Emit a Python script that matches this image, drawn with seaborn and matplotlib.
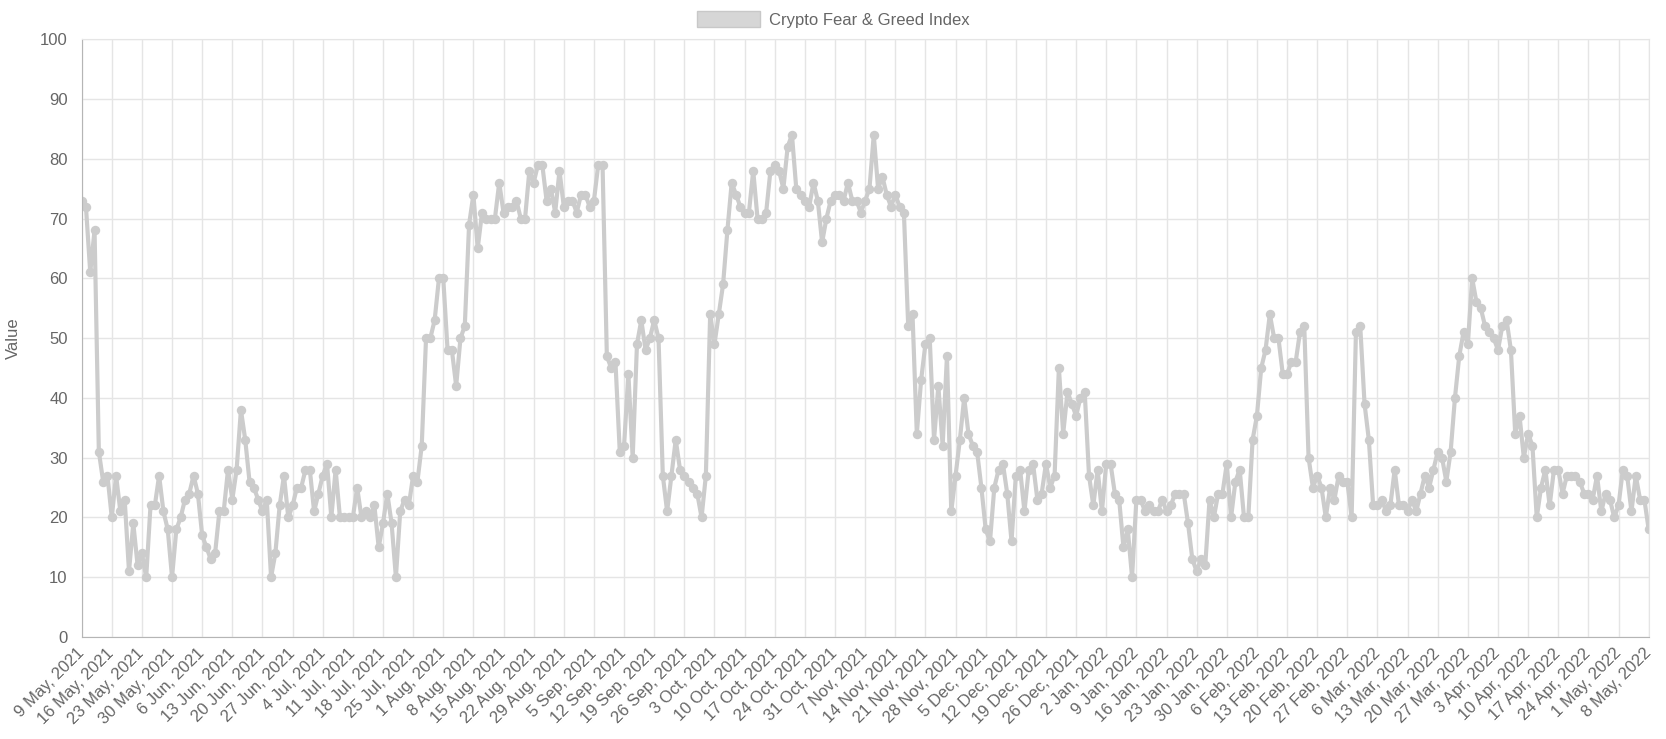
import matplotlib
matplotlib.use("Agg")
import matplotlib.pyplot as plt
import matplotlib.patches as mpatches
import pandas as pd
import seaborn as sns

# Daily index values, one list per month
may_2021 = [73, 72, 61, 68, 31, 26, 27, 20, 27, 21, 23, 11, 19, 12, 14, 10, 22, 22, 27, 21,
            18, 10, 18]
jun_2021 = [20, 23, 24, 27, 24, 17, 15, 13, 14, 21, 21, 28, 23, 28, 38, 33, 26, 25, 23, 21,
            23, 10, 14, 22, 27, 20, 22, 25, 25, 28]
jul_2021 = [28, 21, 24, 27, 29, 20, 28, 20, 20, 20, 20, 25, 20, 21, 20, 22, 15, 19, 24, 19,
            10, 21, 23, 22, 27, 26, 32, 50, 50, 53, 60]
aug_2021 = [60, 48, 48, 42, 50, 52, 69, 74, 65, 71, 70, 70, 70, 76, 71, 72, 72, 73, 70, 70,
            78, 76, 79, 79, 73, 75, 71, 78, 72, 73, 73]
sep_2021 = [71, 74, 74, 72, 73, 79, 79, 47, 45, 46, 31, 32, 44, 30, 49, 53, 48, 50, 53, 50,
            27, 21, 27, 33, 28, 27, 26, 25, 24, 20]
oct_2021 = [27, 54, 49, 54, 59, 68, 76, 74, 72, 71, 71, 78, 70, 70, 71, 78, 79, 78, 75, 82,
            84, 75, 74, 73, 72, 76, 73, 66, 70, 73, 74]
nov_2021 = [74, 73, 76, 73, 73, 71, 73, 75, 84, 75, 77, 74, 72, 74, 72, 71, 52, 54, 34, 43,
            49, 50, 33, 42, 32, 47, 21, 27, 33, 40]
dec_2021 = [34, 32, 31, 25, 18, 16, 25, 28, 29, 24, 16, 27, 28, 21, 28, 29, 23, 24, 29, 25,
            27, 45, 34, 41, 39, 37, 40, 41, 27, 22, 28]
jan_2022 = [21, 29, 29, 24, 23, 15, 18, 10, 23, 23, 21, 22, 21, 21, 23, 21, 22, 24, 24, 24,
            19, 13, 11, 13, 12, 23, 20, 24, 24, 29, 20]
feb_2022 = [26, 28, 20, 20, 33, 37, 45, 48, 54, 50, 50, 44, 44, 46, 46, 51, 52, 30, 25, 27,
            25, 20, 25, 23, 27, 26, 26, 20]
mar_2022 = [51, 52, 39, 33, 22, 22, 23, 21, 22, 28, 22, 22, 21, 23, 21, 24, 27, 25, 28, 31,
            30, 26, 31, 40, 47, 51, 49, 60, 56, 55, 52]
apr_2022 = [51, 50, 48, 52, 53, 48, 34, 37, 30, 34, 32, 20, 25, 28, 22, 28, 28, 24, 27, 27,
            27, 26, 24, 24, 23, 27, 21, 24, 23, 20]
may_2022 = [22, 28, 27, 21, 27, 23, 23, 18]

months = [may_2021, jun_2021, jul_2021, aug_2021, sep_2021, oct_2021, nov_2021,
          dec_2021, jan_2022, feb_2022, mar_2022, apr_2022, may_2022]
values = [v for m in months for v in m]
dates = pd.date_range("2021-05-09", "2022-05-08", freq="D")
df = pd.DataFrame({"date": dates, "value": values})

LINE = "#cccccc"
TEXT = "#666666"
GRID = "#e5e5e5"

sns.set_style("white")
plt.rcParams["font.family"] = ["Liberation Sans", "DejaVu Sans"]

fig = plt.figure(figsize=(16.66, 7.39), dpi=100)
ax = fig.add_axes([0.049, 0.138, 0.9406, 0.809])

sns.lineplot(data=df, x="date", y="value", ax=ax, color=LINE, linewidth=3,
             marker="o", markersize=6.8, markeredgewidth=0, legend=False)

# Weekly ticks
tick_dates = pd.date_range("2021-05-09", "2022-05-08", freq="7D")
tick_labels = [f"{d.day} {d.strftime('%b')}, {d.year}" for d in tick_dates]
ax.set_xticks(tick_dates)
ax.set_xticklabels(tick_labels, rotation=45, ha="right", va="center",
                   rotation_mode="anchor")
ax.set_xlim(dates[0], dates[-1])
ax.set_ylim(0, 100)
ax.set_yticks(range(0, 101, 10))

ax.grid(True, color=GRID, linewidth=1)
ax.set_axisbelow(True)
ax.tick_params(axis="both", length=7, color=GRID, labelcolor=TEXT, labelsize=12, pad=3)
for side in ["top", "right"]:
    ax.spines[side].set_color(GRID)
for side in ["left", "bottom"]:
    ax.spines[side].set_color("#b5b5b5")

ax.set_xlabel("")
ax.set_ylabel("Value", color=TEXT, fontsize=12, labelpad=14)

handle = mpatches.Patch(facecolor="#d6d6d6", edgecolor="#c8c8c8",
                        label="Crypto Fear & Greed Index")
fig.legend(handles=[handle], loc="upper center", bbox_to_anchor=(0.5, 1.005),
           frameon=False, handlelength=3.8, handleheight=1.1, fontsize=12,
           labelcolor=TEXT, handletextpad=0.5)

fig.savefig("out.png", dpi=100)
